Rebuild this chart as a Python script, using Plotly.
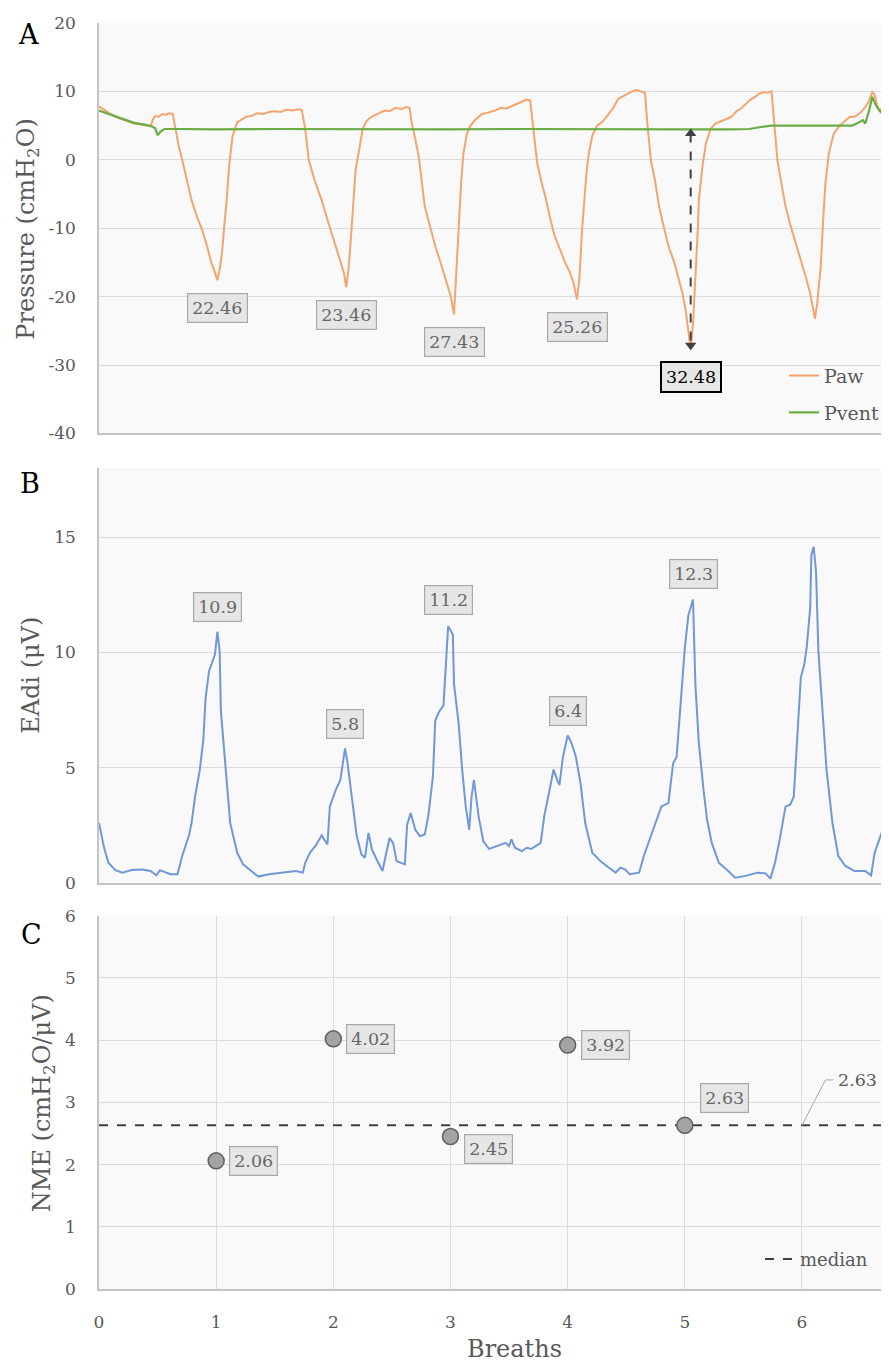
import plotly.graph_objects as go

# ---------------- data ----------------
x_range = [0, 6.7]

# Panel A: airway pressure (Paw) and ventilator pressure (Pvent), cmH2O
paw_t = [0.00, 0.05, 0.10, 0.15, 0.20, 0.25, 0.30, 0.35, 0.40, 0.44,
         0.46, 0.48, 0.51, 0.54, 0.57, 0.60, 0.63, 0.65, 0.68, 0.71,
         0.75, 0.79, 0.84, 0.88, 0.92, 0.96, 0.99, 1.01, 1.03, 1.05,
         1.07, 1.09, 1.11, 1.14, 1.18, 1.22, 1.26, 1.30, 1.35, 1.40,
         1.45, 1.50, 1.55, 1.60, 1.65, 1.70, 1.73,
         1.76, 1.79, 1.84, 1.90, 1.96, 2.02, 2.06, 2.09, 2.11, 2.13,
         2.15, 2.17, 2.19, 2.22, 2.25, 2.28, 2.31, 2.35, 2.40, 2.44,
         2.48, 2.53, 2.58, 2.62, 2.65,
         2.67, 2.70, 2.73, 2.78, 2.83, 2.87, 2.92, 2.96, 3.00, 3.03,
         3.05, 3.07, 3.09, 3.11, 3.14, 3.17, 3.22, 3.27, 3.32, 3.38,
         3.43, 3.48, 3.53, 3.58, 3.62, 3.65, 3.68,
         3.71, 3.74, 3.78, 3.81, 3.85, 3.89, 3.94, 3.98, 4.02, 4.05,
         4.08, 4.10, 4.12, 4.14, 4.16, 4.18, 4.21, 4.25, 4.30, 4.35,
         4.39, 4.43, 4.47, 4.51, 4.55, 4.59, 4.63, 4.66,
         4.68, 4.71, 4.75, 4.78, 4.82, 4.86, 4.91, 4.95, 4.98, 5.01,
         5.03, 5.05, 5.07, 5.09, 5.11, 5.12, 5.15, 5.18, 5.22, 5.26,
         5.31, 5.36, 5.40, 5.44, 5.48, 5.52, 5.56, 5.60, 5.63, 5.67,
         5.70, 5.74,
         5.76, 5.79, 5.83, 5.86, 5.90, 5.94, 5.98, 6.03, 6.07, 6.11,
         6.13, 6.16, 6.18, 6.20, 6.23, 6.27, 6.32, 6.37, 6.41, 6.45,
         6.50, 6.54, 6.57, 6.60, 6.62, 6.64, 6.66, 6.70]
paw_p = [7.8, 7.2, 6.7, 6.2, 5.9, 5.6, 5.3, 5.2, 5.0, 4.9,
         5.9, 6.4, 6.3, 6.7, 6.6, 6.8, 6.7, 4.6, 2.0, 0.0,
         -3.0, -5.9, -8.5, -10.2, -12.5, -15.1, -16.5, -17.6, -16.0, -13.6,
         -9.5, -5.9, -1.0, 3.5, 5.5, 5.9, 6.3, 6.4, 6.8, 6.7,
         7.0, 7.1, 7.0, 7.3, 7.2, 7.4, 7.3,
         4.5, 0.0, -3.0, -5.9, -9.3, -12.6, -14.8, -16.5, -18.6, -16.0,
         -11.5, -5.9, -1.5, 1.4, 4.5, 5.6, 6.1, 6.5, 6.9, 7.2,
         7.1, 7.6, 7.4, 7.7, 7.6,
         5.3, 3.0, 0.4, -6.8, -10.2, -12.6, -15.3, -17.5, -19.8, -22.6,
         -17.0, -10.0, -3.5, 0.9, 3.8, 5.0, 6.0, 6.7, 6.9, 7.2,
         7.6, 7.5, 7.9, 8.3, 8.6, 8.8, 8.7,
         3.8, -0.5, -3.5, -5.4, -8.5, -11.2, -13.3, -15.1, -16.5, -18.0,
         -20.4, -17.5, -11.0, -5.9, -2.0, 0.9, 3.5, 5.0, 5.6, 6.7,
         7.6, 8.9, 9.3, 9.6, 10.0, 10.2, 10.0, 9.8,
         5.3, 0.0, -3.5, -6.8, -9.8, -12.6, -15.0, -17.5, -19.5, -22.3,
         -25.0, -27.7, -24.0, -18.0, -10.5, -5.9, -1.0, 2.4, 4.5, 5.3,
         5.6, 6.0, 6.3, 7.1, 7.5, 8.2, 8.8, 9.2, 9.6, 9.9,
         9.8, 10.0,
         5.8, 0.0, -4.0, -6.8, -9.5, -11.7, -14.2, -17.0, -19.5, -23.2,
         -21.0, -15.6, -9.0, -3.4, 1.0, 3.8, 5.0, 5.8, 6.3, 6.3,
         6.9, 7.7, 8.5, 9.9, 9.5, 8.0, 7.2, 7.7]

pvent_t = [0.00, 0.10, 0.20, 0.30, 0.40, 0.45, 0.48, 0.50, 0.53, 0.56,
           0.70, 1.00, 1.50, 2.00, 2.50, 3.00, 3.50, 4.00, 4.50, 5.00,
           5.40, 5.55, 5.65, 5.74, 6.00, 6.30, 6.43, 6.48, 6.52, 6.54,
           6.57, 6.60, 6.63, 6.67, 6.70]
pvent_p = [7.2, 6.6, 6.0, 5.4, 5.1, 4.9, 4.6, 3.6, 4.2, 4.5,
           4.5, 4.45, 4.5, 4.45, 4.5, 4.45, 4.5, 4.45, 4.45, 4.45,
           4.45, 4.5, 4.8, 5.0, 5.0, 4.95, 5.0, 5.4, 5.8, 5.3,
           7.0, 9.2, 8.0, 7.0, 7.5]

trough_t = [1.01, 2.11, 3.03, 4.08, 5.05]
trough_p = [-17.6, -18.6, -22.6, -20.4, -27.7]
swing_labels = ["22.46", "23.46", "27.43", "25.26", "32.48"]
highlight_index = 4

# Panel B: diaphragm electrical activity, uV
eadi_t = [0.00, 0.04, 0.08, 0.14, 0.20, 0.28, 0.37, 0.44, 0.49, 0.52,
          0.61, 0.67, 0.71, 0.77, 0.79, 0.82, 0.86, 0.89, 0.91, 0.94,
          0.97, 0.99, 1.01, 1.03, 1.04, 1.08, 1.12, 1.18, 1.23, 1.30,
          1.36, 1.45, 1.56, 1.68, 1.74, 1.76, 1.80, 1.85, 1.90, 1.95,
          1.97, 2.02, 2.06, 2.10, 2.12, 2.16, 2.20, 2.24, 2.27, 2.30,
          2.33, 2.37, 2.42, 2.44, 2.48, 2.51, 2.54, 2.61, 2.63, 2.66,
          2.70, 2.74, 2.78, 2.81, 2.85, 2.87, 2.90, 2.94, 2.96, 2.98,
          3.02, 3.03, 3.07, 3.10, 3.13, 3.16, 3.18, 3.20, 3.24, 3.28,
          3.33, 3.41, 3.47, 3.50, 3.52, 3.55, 3.61, 3.65, 3.69, 3.77,
          3.80, 3.84, 3.88, 3.91, 3.93, 3.96, 3.98, 4.00, 4.03, 4.07,
          4.11, 4.15, 4.21, 4.28, 4.35, 4.41, 4.45, 4.49, 4.53, 4.61,
          4.65, 4.71, 4.76, 4.80, 4.86, 4.90, 4.93, 4.96, 5.00, 5.03,
          5.07, 5.09, 5.12, 5.16, 5.19, 5.23, 5.29, 5.37, 5.43, 5.52,
          5.62, 5.69, 5.73, 5.77, 5.81, 5.86, 5.90, 5.93, 5.96, 5.99,
          6.02, 6.04, 6.07, 6.08, 6.10, 6.12, 6.14, 6.18, 6.21, 6.26,
          6.31, 6.37, 6.45, 6.54, 6.59, 6.62, 6.68, 6.72]
eadi_v = [2.61, 1.61, 0.89, 0.57, 0.46, 0.57, 0.60, 0.53, 0.34, 0.57,
          0.39, 0.39, 1.18, 2.11, 2.61, 3.76, 4.90, 6.19, 8.05, 9.20,
          9.63, 9.92, 10.90, 10.06, 7.48, 4.90, 2.61, 1.32, 0.82, 0.53,
          0.29, 0.39, 0.46, 0.53, 0.46, 0.89, 1.32, 1.64, 2.07, 1.68,
          3.33, 4.04, 4.48, 5.84, 5.26, 3.61, 2.04, 1.25, 1.11, 2.18,
          1.46, 1.03, 0.53, 1.03, 1.96, 1.75, 0.96, 0.82, 2.54, 3.04,
          2.32, 2.04, 2.11, 2.90, 4.62, 7.05, 7.41, 7.70, 9.63, 11.14,
          10.78, 8.63, 6.91, 4.90, 3.33, 2.32, 3.76, 4.48, 2.90, 1.82,
          1.49, 1.64, 1.75, 1.61, 1.90, 1.54, 1.39, 1.54, 1.49, 1.75,
          2.90, 3.90, 4.93, 4.48, 4.26, 5.48, 5.98, 6.41, 6.12, 5.48,
          4.33, 2.61, 1.32, 0.96, 0.68, 0.46, 0.68, 0.60, 0.39, 0.46,
          1.18, 2.04, 2.75, 3.33, 3.47, 5.19, 5.48, 7.48, 10.20, 11.60,
          12.30, 8.63, 6.05, 4.04, 2.75, 1.75, 0.89, 0.53, 0.24, 0.32,
          0.46, 0.43, 0.20, 0.89, 1.90, 3.33, 3.40, 3.76, 6.62, 8.92,
          9.49, 10.20, 11.93, 14.22, 14.58, 13.50, 10.06, 7.34, 4.90, 2.61,
          1.18, 0.75, 0.53, 0.53, 0.34, 1.32, 2.18, 3.04]

peak_t = [1.01, 2.10, 2.98, 4.00, 5.07]
peak_v = [10.9, 5.8, 11.2, 6.4, 12.3]

# Panel C: neuromechanical efficiency per breath
breaths = [1, 2, 3, 4, 5]
nme = [2.06, 4.02, 2.45, 3.92, 2.63]
nme_median = 2.63

# y-axis ticks
ticks_a = [-40, -30, -20, -10, 0, 10, 20]
ticks_b = [0, 5, 10, 15]
ticks_c = [0, 1, 2, 3, 4, 5, 6]

# ---------------- styling / geometry ----------------
OX, OY = 8, 8                 # page (body) margin in the browser
W, H = 889 - OX, 1363 - OY
ML, MR, MT, MB = 99 - OX, 5, 15 - OY, 74
PW, PH = W - ML - MR, H - MT - MB


def py2paper(py):
    return 1 - (py - OY - MT) / PH


def px2paper(px):
    return (px - OX - ML) / PW


FONT = "DejaVu Serif, Liberation Serif, serif"
TXT = "#595959"
GRID = "#dcdcdc"
AXL = "#c4c4c4"
BG = "#f9f9f9"
ORANGE = "#f4a46c"
GREEN = "#6aad45"
BLUE = "#7097d8"
LBL_BG = "#e6e6e6"
LBL_BORDER = "#a8a8a8"
LBL_SIZE = 17.5
LBL_PAD = 4

fig = go.Figure()

# Panel A traces
fig.add_trace(go.Scatter(x=paw_t, y=paw_p, mode="lines", name="Paw",
                         line=dict(color=ORANGE, width=2),
                         xaxis="x", yaxis="y", legend="legend"))
fig.add_trace(go.Scatter(x=pvent_t, y=pvent_p, mode="lines", name="Pvent",
                         line=dict(color=GREEN, width=2.2),
                         xaxis="x", yaxis="y", legend="legend2"))

# dashed double arrow at the highlighted breath: from Pvent level to Paw trough
ht = trough_t[highlight_index]
top_val = min(zip(pvent_t, pvent_p), key=lambda p: abs(p[0] - ht))[1]
bot_val = trough_p[highlight_index]
fig.add_trace(go.Scatter(x=[ht, ht], y=[top_val - 0.6, bot_val + 0.6], mode="lines",
                         line=dict(color="#404040", width=2, dash="dash"),
                         showlegend=False, xaxis="x", yaxis="y", hoverinfo="skip"))
fig.add_trace(go.Scatter(x=[ht, ht], y=[top_val - 0.6, bot_val + 0.6], mode="markers",
                         marker=dict(symbol=["triangle-up", "triangle-down"], size=10,
                                     color="#404040"),
                         showlegend=False, xaxis="x", yaxis="y", hoverinfo="skip"))

# Panel B trace
fig.add_trace(go.Scatter(x=eadi_t, y=eadi_v, mode="lines", showlegend=False,
                         line=dict(color=BLUE, width=2),
                         xaxis="x2", yaxis="y2"))

# Panel C traces
fig.add_trace(go.Scatter(x=x_range, y=[nme_median, nme_median], mode="lines",
                         name="median", line=dict(color="#404040", width=2, dash="dash"),
                         xaxis="x3", yaxis="y3", legend="legend3"))
fig.add_trace(go.Scatter(x=breaths, y=nme, mode="markers", showlegend=False,
                         marker=dict(size=16, color="#a3a3a3",
                                     line=dict(color="#5e5e5e", width=1.5)),
                         xaxis="x3", yaxis="y3"))
# leader line for the median label
fig.add_trace(go.Scatter(x=[6.0, 6.2, 6.27],
                         y=[nme_median, nme_median + 0.73, nme_median + 0.73],
                         mode="lines", line=dict(color="#a6a6a6", width=1),
                         showlegend=False, xaxis="x3", yaxis="y3", hoverinfo="skip"))

annotations = []

# Panel A labels
for i, (t, p, s) in enumerate(zip(trough_t, trough_p, swing_labels)):
    hl = i == highlight_index
    annotations.append(dict(
        x=t, y=p, xref="x", yref="y", text=s, showarrow=False, yshift=-28,
        font=dict(family=FONT, size=LBL_SIZE, color="#000000" if hl else "#666666"),
        bgcolor=LBL_BG, bordercolor="#000000" if hl else LBL_BORDER,
        borderwidth=2 if hl else 1.2, borderpad=LBL_PAD))

# Panel B labels
for t, v in zip(peak_t, peak_v):
    annotations.append(dict(
        x=t, y=v, xref="x2", yref="y2", text=f"{v:g}", showarrow=False, yshift=25,
        font=dict(family=FONT, size=LBL_SIZE, color="#666666"),
        bgcolor=LBL_BG, bordercolor=LBL_BORDER, borderwidth=1.2, borderpad=LBL_PAD))

# Panel C labels
c_dx = [37, 37, 38, 38, 40]
c_dy = [0, 0, -12, 0, 27]
for b, v, dx, dy in zip(breaths, nme, c_dx, c_dy):
    annotations.append(dict(
        x=b, y=v, xref="x3", yref="y3", text=f"{v:.2f}", showarrow=False,
        xshift=dx, yshift=dy,
        font=dict(family=FONT, size=LBL_SIZE, color="#666666"),
        bgcolor=LBL_BG, bordercolor=LBL_BORDER, borderwidth=1.2, borderpad=LBL_PAD))
annotations.append(dict(
    x=6.29, y=nme_median + 0.73, xref="x3", yref="y3", text=f"{nme_median:.2f}",
    showarrow=False, xanchor="left",
    font=dict(family=FONT, size=LBL_SIZE, color="#595959")))

# panel letters
for letter, px, py in [("A", 28, 27), ("B", 30, 478), ("C", 31, 932)]:
    annotations.append(dict(
        x=px2paper(px), y=py2paper(py), xref="paper", yref="paper", text=letter,
        showarrow=False, xanchor="center", yanchor="middle",
        font=dict(family=FONT, size=27, color="#000000")))

# axis titles
for txt, px, py in [("Pressure (cmH<sub>2</sub>O)", 28, 223),
                    ("EAdi (μV)", 31, 672),
                    ("NME (cmH<sub>2</sub>O/μV)", 43, 1102)]:
    annotations.append(dict(
        x=px2paper(px), y=py2paper(py), xref="paper", yref="paper", text=txt,
        showarrow=False, textangle=-90, xanchor="center", yanchor="middle",
        font=dict(family=FONT, size=24, color=TXT)))
annotations.append(dict(
    x=px2paper(514), y=py2paper(1349), xref="paper", yref="paper", text="Breaths",
    showarrow=False, xanchor="center", yanchor="middle",
    font=dict(family=FONT, size=24, color=TXT)))

tickfont = dict(family=FONT, size=17, color=TXT)
common_x = dict(range=x_range, showline=True, linecolor=AXL, linewidth=1.5,
                zeroline=False, fixedrange=True)
common_y = dict(showline=True, linecolor=AXL, linewidth=1.5, zeroline=False,
                showgrid=True, gridcolor=GRID, gridwidth=1, tickfont=tickfont,
                ticks="outside", ticklen=18, tickcolor="rgba(0,0,0,0)",
                tickmode="array")

fig.update_layout(
    width=W, height=H,
    margin=dict(l=ML, r=MR, t=MT, b=MB),
    paper_bgcolor="white", plot_bgcolor=BG,
    font=dict(family=FONT, color=TXT),
    xaxis=dict(domain=[0, 1], anchor="y", showticklabels=False, showgrid=False, **common_x),
    yaxis=dict(domain=[py2paper(428), 1], anchor="x", range=[-40, 20],
               tickvals=ticks_a, ticktext=[str(v) for v in ticks_a], **common_y),
    xaxis2=dict(domain=[0, 1], anchor="y2", showticklabels=False, showgrid=False, **common_x),
    yaxis2=dict(domain=[py2paper(880.7), py2paper(462.7)], anchor="x2", range=[0, 18],
                tickvals=ticks_b, ticktext=[str(v) for v in ticks_b], **common_y),
    xaxis3=dict(domain=[0, 1], anchor="y3", showticklabels=True, showgrid=True,
                gridcolor=GRID, gridwidth=1, dtick=1, tickfont=tickfont,
                ticks="outside", ticklen=17, tickcolor="rgba(0,0,0,0)", **common_x),
    yaxis3=dict(domain=[0, py2paper(913.3)], anchor="x3", range=[0, 6],
                tickvals=ticks_c, ticktext=[str(v) for v in ticks_c], **common_y),
    legend=dict(x=px2paper(784), y=py2paper(370), xanchor="left", yanchor="middle",
                bgcolor="rgba(0,0,0,0)", font=dict(family=FONT, size=19, color=TXT)),
    legend2=dict(x=px2paper(784), y=py2paper(407), xanchor="left", yanchor="middle",
                 bgcolor="rgba(0,0,0,0)", font=dict(family=FONT, size=19, color=TXT)),
    legend3=dict(x=px2paper(760), y=py2paper(1259), xanchor="left", yanchor="middle",
                 bgcolor="rgba(0,0,0,0)", font=dict(family=FONT, size=18, color=TXT)),
    annotations=annotations,
    showlegend=True,
)

fig.write_html("out.html")
